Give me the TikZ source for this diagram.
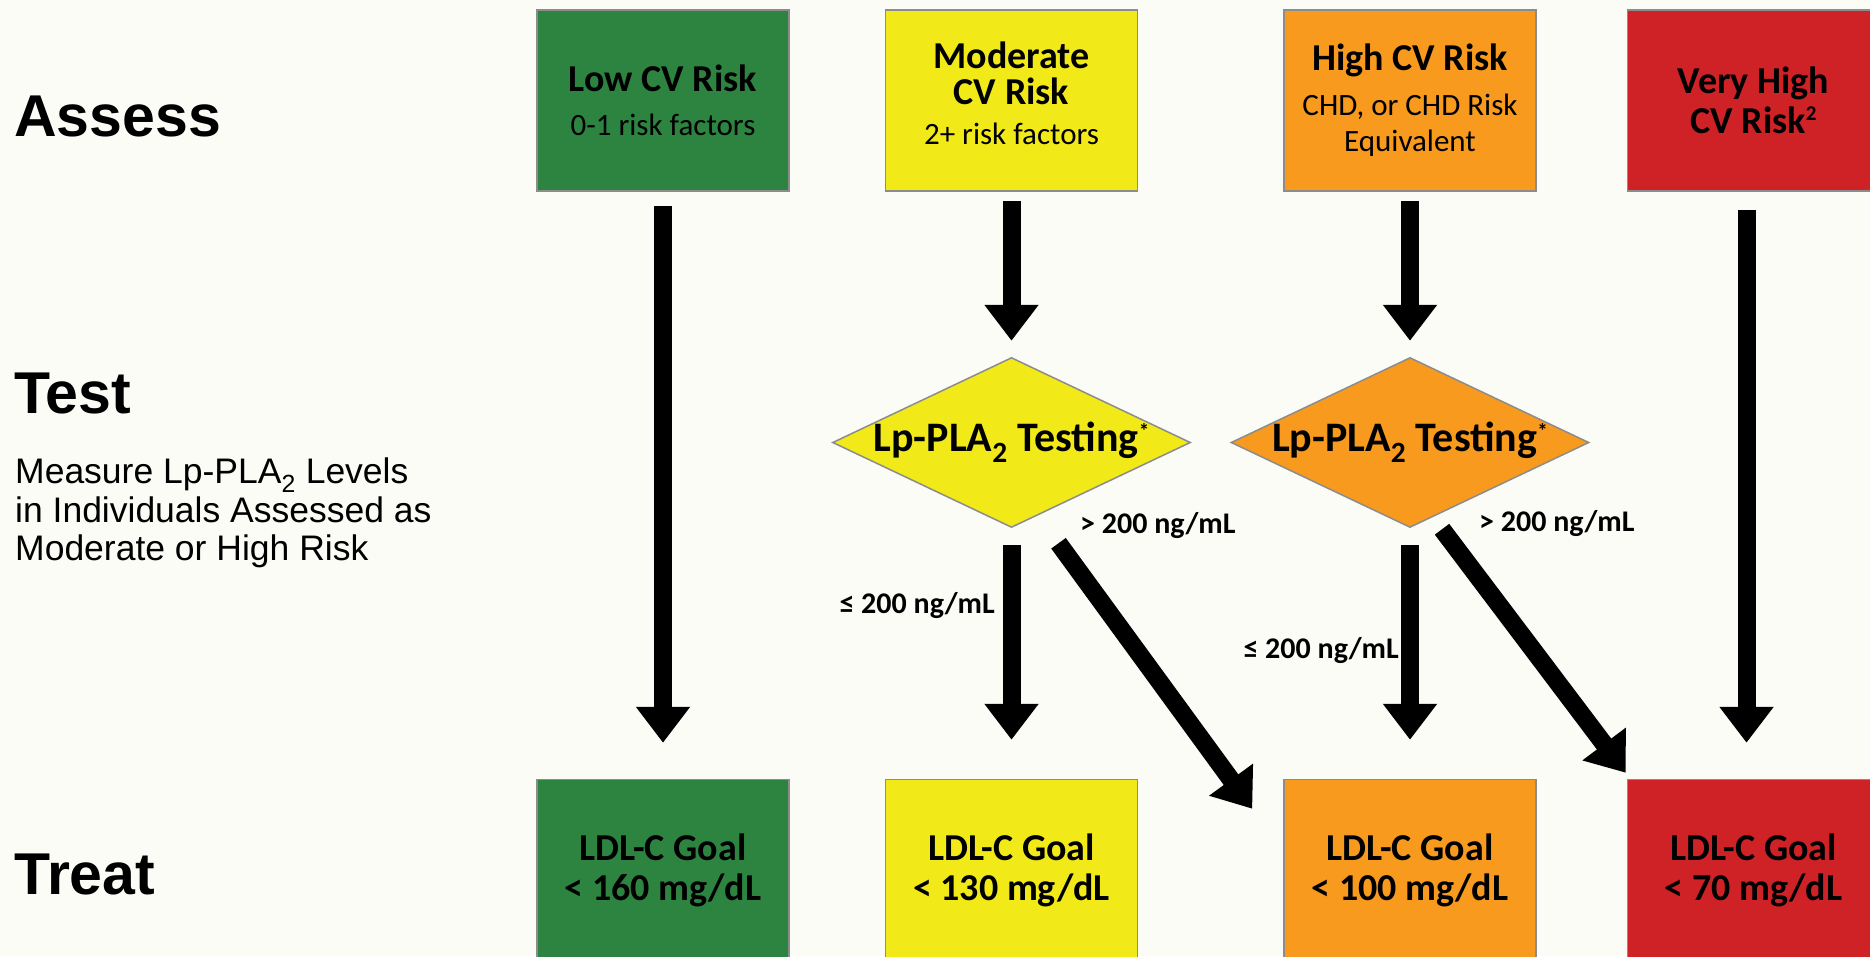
\documentclass[tikz,border=0pt]{standalone}
\usepackage{fontspec}
\setmainfont{Carlito}
\newfontfamily\arialfont{Liberation Sans}
\usetikzlibrary{arrows.meta,positioning,calc,shapes.geometric}
\definecolor{lowgreen}{RGB}{44,132,64}
\definecolor{modyellow}{RGB}{242,234,24}
\definecolor{highorange}{RGB}{247,154,30}
\definecolor{vhred}{RGB}{207,34,39}
\definecolor{edgegray}{RGB}{140,140,140}
\definecolor{paper}{RGB}{252,252,247}
\newcommand{\rtitle}[1]{{\bfseries\fontsize{38}{40}\selectfont #1}}
\newcommand{\lppla}{Lp-PLA\textsubscript{2}}
\newcommand{\smallsup}[1]{\raisebox{13pt}{\fontsize{21}{21}\selectfont #1}}

\begin{document}
\begin{tikzpicture}[
      x=1pt, y=1pt,
      risk/.style={draw=edgegray, line width=1.5pt, minimum width=252pt,
                   minimum height=181pt, inner sep=0pt, align=center,
                   font=\fontsize{31}{36}\selectfont},
      goal/.style={risk, minimum height=182pt,
                   font=\bfseries\fontsize{38}{40}\selectfont},
      test/.style={diamond, draw=edgegray, line width=1.5pt,
                   minimum width=358pt, minimum height=170pt, inner sep=0pt},
      testtxt/.style={font=\bfseries\fontsize{42}{44}\selectfont, inner sep=0pt},
      cut/.style={font=\bfseries\fontsize{30}{36}\selectfont, inner sep=0pt},
      stage/.style={font=\arialfont\bfseries\fontsize{59}{64}\selectfont,
                    inner sep=0pt, anchor=base west},
      big/.style={line width=18pt, -{Triangle[width=52pt,length=36pt]}},
    ]
    \useasboundingbox (0,0) rectangle (1870,-956);
    \clip (0,0) rectangle (1870,-956);
    \fill[paper] (0,0) rectangle (1870,-956);

    % stage labels (left)
    \node[stage] (assess) at (14,-136) {Assess};
    \node[stage] (test) at (14,-413) {Test};
    \node[stage] (treat) at (14,-894) {Treat};
    \node[anchor=north west, align=left, inner sep=0pt,
          font=\arialfont\fontsize{35.5}{38.5}\selectfont] (measure) at (15,-458)
      {Measure \lppla\ Levels\\in Individuals Assessed as\\Moderate or High Risk};

    % assess row
    \node[risk, fill=lowgreen] (riskL) at (663,-100.5)
      {\rtitle{Low CV Risk}\\[8pt]0-1 risk factors};
    \node[risk, fill=modyellow, right=95pt of riskL] (riskM)
      {\rtitle{Moderate}\\\rtitle{CV Risk}\\[4pt]2+ risk factors\\[-22pt]};
    \node[risk, fill=highorange, right=145pt of riskM] (riskH)
      {\rtitle{High CV Risk}\\[9pt]CHD, or CHD Risk\\Equivalent};
    \node[risk, fill=vhred, right=90pt of riskH, minimum width=272pt] (riskV)
      {\hspace*{-20pt}\rtitle{Very High}\\[4pt]\hspace*{-20pt}\rtitle{CV Risk\smallsup{2}}};

    % test row
    \node[test, fill=modyellow, below=165pt of riskM,
          label={[testtxt]center:\lppla\ Testing\smallsup{*}}] (testM) {};
    \node[test, fill=highorange, below=165pt of riskH,
          label={[testtxt]center:\lppla\ Testing\smallsup{*}}] (testH) {};

    % treat row
    \node[goal, fill=lowgreen, below=587pt of riskL] (goalL)
      {LDL-C Goal\\< 160 mg/dL};
    \node[goal, fill=modyellow, right=95pt of goalL] (goalM)
      {LDL-C Goal\\< 130 mg/dL};
    \node[goal, fill=highorange, right=145pt of goalM] (goalH)
      {LDL-C Goal\\< 100 mg/dL};
    \node[goal, fill=vhred, right=90pt of goalH, minimum width=272pt] (goalV)
      {\hspace*{-20pt}LDL-C Goal\\\hspace*{-20pt}< 70 mg/dL};

    % cut-off labels
    \node[cut, anchor=base west] (gtM) at (1080,-533) {> 200 ng/mL};
    \node[cut, anchor=base east] (leM) at (995,-613) {≤ 200 ng/mL};
    \node[cut, anchor=base west] (gtH) at (1479,-531) {> 200 ng/mL};
    \node[cut, anchor=base east] (leH) at (1399,-658) {≤ 200 ng/mL};

    % arrows
    \draw[big, shorten <=14pt, shorten >=36pt] (riskL) -- (goalL);
    \draw[big, shorten <=9pt, shorten >=16pt] (riskM) -- (testM);
    \draw[big, shorten <=17pt, shorten >=39pt] (testM) -- (goalM);
    \draw[big, shorten <=9pt, shorten >=16pt] (riskH) -- (testH);
    \draw[big, shorten <=17pt, shorten >=39pt] (testH) -- (goalH);
    \draw[big, shorten <=18pt, shorten >=36pt]
      ([xshift=-17pt]riskV.south) -- ([xshift=-17pt]goalV.north);
    \draw[big] ($(testM.south)+(47,-15)$) -- ($(goalH.north west)+(-31,-30)$);
    \draw[big] ($(testH.south)+(32,-1)$) -- ($(goalV.north west)+(-1,6)$);
  \end{tikzpicture}
\end{document}
